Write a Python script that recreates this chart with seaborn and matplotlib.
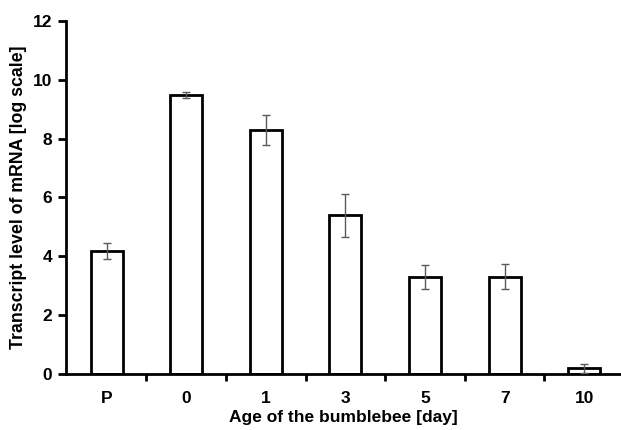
import matplotlib
matplotlib.use("Agg")
import matplotlib.pyplot as plt
import seaborn as sns
import pandas as pd
import numpy as np
from matplotlib.ticker import FixedLocator

ages = ["P", "0", "1", "3", "5", "7", "10"]
levels = [4.17, 9.48, 8.29, 5.39, 3.29, 3.31, 0.19]
errors = [0.27, 0.09, 0.52, 0.74, 0.41, 0.42, 0.15]

sns.set_theme(style="white")
plt.rcParams['font.family'] = ['Liberation Sans', 'DejaVu Sans']

df = pd.DataFrame({"age": ages, "level": levels, "err": errors})

fig = plt.figure(figsize=(6.21, 4.30), dpi=100)
ax = fig.add_axes([66/621, 1-374/430, (620-66)/621, (374-21)/430])

sns.barplot(data=df, x="age", y="level", order=ages, color="white",
            edgecolor="black", linewidth=2, width=0.4, errorbar=None, ax=ax)
ax.errorbar(x=np.arange(len(ages)), y=df["level"], yerr=df["err"], fmt="none",
            ecolor="#5a5a5a", elinewidth=1.0, capsize=2.8, capthick=1.0, zorder=5)

ax.set_ylim(0, 12)
ax.set_yticks([0, 2, 4, 6, 8, 10, 12])
ax.set_xlim(-0.51, 6.45)

for s in ["top", "right"]:
    ax.spines[s].set_visible(False)
for s in ["left", "bottom"]:
    ax.spines[s].set_color("black")
    ax.spines[s].set_linewidth(2)

ax.tick_params(axis="y", which="major", direction="out", length=6, width=2,
               color="black", left=True, labelsize=12.5, pad=4)
ax.tick_params(axis="x", which="major", length=0, labelsize=12.5, pad=12)
ax.xaxis.set_minor_locator(FixedLocator(np.arange(0.5, len(ages) - 1, 1.0)))
ax.tick_params(axis="x", which="minor", direction="out", length=5, width=2,
               color="black", bottom=True)
for lab in ax.get_xticklabels() + ax.get_yticklabels():
    lab.set_fontweight("bold")
    lab.set_color("black")

ax.set_xlabel("Age of the bumblebee [day]", fontsize=12.5, fontweight="bold",
              color="black", labelpad=3)
ax.set_ylabel("Transcript level of mRNA [log scale]", fontsize=12.8,
              fontweight="bold", color="black", labelpad=4)

fig.savefig("out.png", dpi=100, facecolor="white")
